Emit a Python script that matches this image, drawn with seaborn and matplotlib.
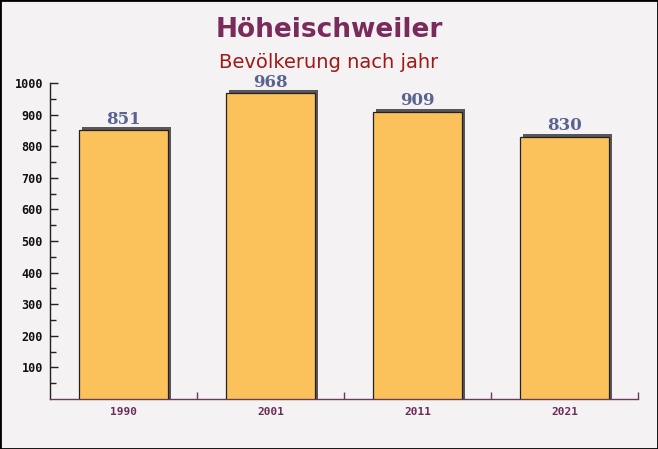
import matplotlib
matplotlib.use("Agg")
import matplotlib.pyplot as plt
import matplotlib.transforms as mtransforms
from matplotlib.patches import Rectangle
import seaborn as sns
import pandas as pd

# data
years = ["1990", "2001", "2011", "2021"]
population = [851, 968, 909, 830]

title = "Höheischweiler"
subtitle = "Bevölkerung nach jahr"

df = pd.DataFrame({"jahr": years, "einwohner": population})

sns.set_theme(style="white")
plt.rcParams['font.family'] = ['DejaVu Sans']

bg = "#f4f2f2"
fig = plt.figure(figsize=(6.58, 4.49), dpi=100, facecolor=bg)
ax = fig.add_axes([50/658, 50/449, 588/658, 316/449])
ax.set_facecolor("none")

# shadow bars, shifted up and right by a few pixels, reaching down to the axis
sns.barplot(data=df, x="jahr", y="einwohner", ax=ax, color="#5a5558",
            width=0.6, saturation=1, edgecolor="none", linewidth=0)
shift = mtransforms.offset_copy(ax.transData, fig=fig, x=3, y=3, units="dots")
for p in ax.patches:
    p.set_transform(shift)
    p.set_y(-30)
    p.set_height(p.get_height() + 30)
n_shadow = len(ax.patches)

# main bars
sns.barplot(data=df, x="jahr", y="einwohner", ax=ax, color="#fbc25c",
            width=0.6, saturation=1, edgecolor="#222222", linewidth=0.9)
for p in ax.patches[n_shadow:]:
    p.set_zorder(3)

# value labels
for i, v in enumerate(population):
    ax.text(i, v + 8, str(v), ha="center", va="bottom", color="#5a6390",
            fontsize=12, fontweight="bold", family="DejaVu Serif", zorder=4)

ax.set_xlim(-0.5, 3.5)
ax.set_ylim(0, 1000)
ax.set_xlabel("")
ax.set_ylabel("")

ax.set_yticks(range(100, 1001, 100))
ax.set_yticks(range(50, 1000, 100), minor=True)
ax.set_xticks([0, 1, 2, 3])
ax.set_xticks([0.5, 1.5, 2.5, 3.5], minor=True)
ax.tick_params(which="both", left=True, bottom=True)
ax.tick_params(axis="y", which="major", length=6, width=1, color="#222222",
               direction="in", pad=5, labelsize=8.5)
ax.tick_params(axis="y", which="minor", length=4, width=1, color="#222222",
               direction="in")
ax.tick_params(axis="x", which="major", length=0, pad=6, labelsize=8,
               labelcolor="#6b2d55")
ax.tick_params(axis="x", which="minor", length=5, width=1, color="#6b3a5a",
               direction="in")
for lab in ax.get_yticklabels():
    lab.set_family("DejaVu Sans Mono")
    lab.set_fontweight("bold")
    lab.set_color("#111111")
for lab in ax.get_xticklabels():
    lab.set_family("DejaVu Sans Mono")
    lab.set_fontweight("bold")

for s in ["top", "right"]:
    ax.spines[s].set_visible(False)
ax.spines["left"].set_color("#222222")
ax.spines["bottom"].set_color("#6b3a5a")
ax.spines["left"].set_linewidth(1)
ax.spines["bottom"].set_linewidth(1)

fig.text(0.5, 1 - 30/449, title, ha="center", va="center", fontsize=19,
         fontweight="bold", color="#7a2b5b")
fig.text(0.5, 1 - 62/449, subtitle, ha="center", va="center", fontsize=14,
         color="#a01818")

# outer frame
fig.patches.append(Rectangle((0, 0), 1, 1, transform=fig.transFigure,
                             fill=False, edgecolor="black", linewidth=2))

fig.savefig("out.png", dpi=100, facecolor=bg)
